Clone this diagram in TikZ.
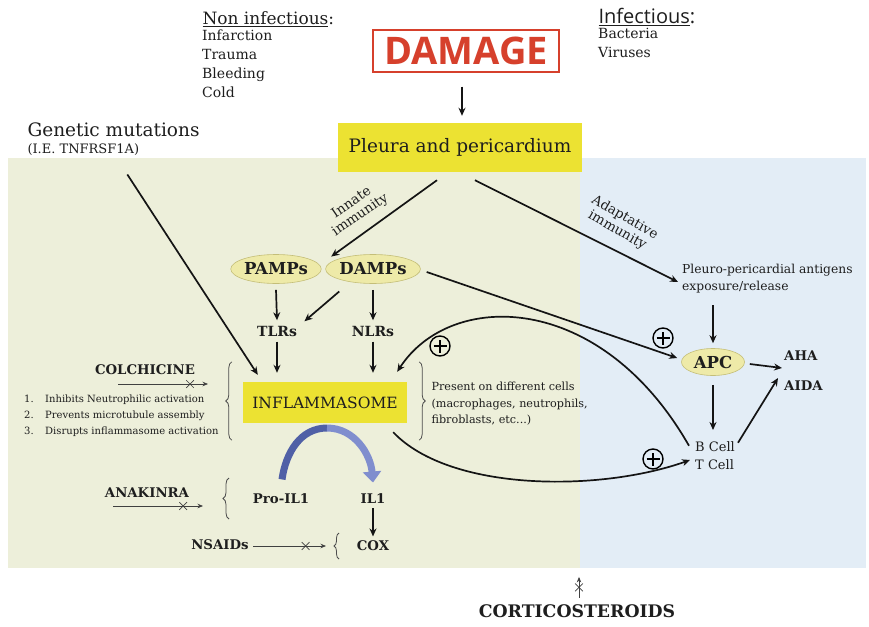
\documentclass[tikz,border=0pt]{standalone}
\usepackage{fontspec}
\setmainfont{DejaVu Serif}
\newfontfamily\osans{Open Sans}
\usetikzlibrary{arrows.meta,shapes.geometric,shapes.misc,decorations.pathreplacing,calc}
\definecolor{bggreen}{RGB}{237,239,218}
\definecolor{bgblue}{RGB}{227,237,246}
\definecolor{boxyellow}{RGB}{236,226,50}
\definecolor{ellfill}{RGB}{238,234,168}
\definecolor{ellline}{RGB}{196,190,120}
\definecolor{dmgred}{RGB}{214,64,44}
\definecolor{txt}{RGB}{30,30,30}
\definecolor{blueA}{RGB}{80,96,166}
\definecolor{blueB}{RGB}{128,142,206}
\newcommand\fsz[1]{\fontsize{#1}{#1}\selectfont}
\begin{document}
\begin{tikzpicture}[x=1pt,y=-1pt,
  every node/.style={text=txt},
  arr/.style={-{Stealth[length=8pt,width=7pt]}, line width=1.7pt, draw=black!92},
  thinarr/.style={-{Stealth[length=5.5pt,width=4.5pt]}, line width=0.7pt, draw=black!75},
  ell/.style={ellipse, fill=ellfill, draw=ellline, line width=0.6pt, inner sep=0pt},
  bld/.style={font=\bfseries\fsz{#1}},
  brc/.style={decorate, decoration={brace, amplitude=#1}, line width=0.8pt, draw=black!70},
  brc/.default=6pt,
  xmark/.style={cross out, draw=black!75, line width=0.7pt, minimum size=7pt, inner sep=0pt},
  oplus/.style={circle, draw=black, line width=1.4pt, minimum size=20pt, inner sep=0pt,
    path picture={\draw[line width=1.4pt] ($(path picture bounding box.center)+(-6.5pt,0pt)$) -- ($(path picture bounding box.center)+(6.5pt,0pt)$);
                  \draw[line width=1.4pt] ($(path picture bounding box.center)+(0pt,-6.5pt)$) -- ($(path picture bounding box.center)+(0pt,6.5pt)$);}},
]
\useasboundingbox (0,0) rectangle (869,626);
\fill[white] (0,0) rectangle (869,626);
\fill[bggreen] (8,158) rectangle (580,568);
\fill[bgblue] (580,158) rectangle (866,568);

% top texts
\node[anchor=west, font=\fsz{17}] (noninf) at (199,19) {\underline{Non infectious}:};
\node[anchor=north west, align=left, font=\fontsize{14}{19}\selectfont, inner sep=0pt] (noninflist) at (202,30) {Infarction\\Trauma\\Bleeding\\Cold};
\node[anchor=west, font=\osans\fsz{20}] (inf) at (595,17) {\underline{Infectious}:};
\node[anchor=north west, align=left, font=\fontsize{14}{18.5}\selectfont, inner sep=0pt] (inflist) at (598,28) {Bacteria\\Viruses};

\node[draw=dmgred, line width=2pt, minimum width=186pt, minimum height=41pt, inner sep=0pt, font=\osans\bfseries\fsz{38}, text=dmgred] (damage) at (466,51) {DAMAGE};
\node[fill=boxyellow, minimum width=244pt, minimum height=49pt, font=\fsz{18.5}] (pleura) at (460,147.5) {Pleura and pericardium};
\draw[arr] ([xshift=-4pt,yshift=-14pt]damage.south) -- ([xshift=2pt,yshift=7pt]pleura.north);

\node[anchor=west, font=\fsz{18.5}] (gen) at (24,130) {Genetic mutations};
\node[anchor=west, font=\fsz{13}] (genie) at (24,150) {(I.E. TNFRSF1A)};

% innate side
\node[ell, minimum width=75pt, minimum height=29pt, bld=16.5] (pamps) at (276,269) {PAMPs};
\node[ell, minimum width=80pt, minimum height=29pt, bld=16.5] (damps) at (373,269) {DAMPs};
\node[bld=14] (tlrs) at (277,331) {TLRs};
\node[bld=14] (nlrs) at (373,331) {NLRs};
\node[fill=boxyellow, minimum width=164pt, minimum height=41pt, font=\fsz{15.5}] (infl) at (325,402.5) {INFLAMMASOME};

\draw[arr] ([xshift=-23pt,yshift=-8pt]pleura.south) -- ([xshift=23pt,yshift=2pt]pamps.north east);
\node[rotate=34.5, align=center, font=\fontsize{13.5}{15}\selectfont] (innatelbl) at (356,209) {Innate\\immunity};
\draw[arr] ([xshift=15pt,yshift=-8pt]pleura.south) -- (678,282) coordinate (adtip);
\node[rotate=-30, align=center, font=\fontsize{13.5}{15}\selectfont] (adaptlbl) at (621,224) {Adaptative\\immunity};

\draw[arr] ([xshift=44pt,yshift=-15pt]genie.south) -- ([xshift=15pt,yshift=7pt]infl.north west);
\draw[arr] ([yshift=-6pt]pamps.south) -- ([yshift=2pt]tlrs.north);
\draw[arr] ([yshift=-12pt]damps.south west) -- ([xshift=4pt,yshift=1pt]tlrs.north east);
\draw[arr] ([yshift=-6pt]damps.south) -- ([yshift=2pt]nlrs.north);
\draw[arr, shorten >=9pt] ([yshift=-2pt]tlrs.south) -- (tlrs.south |- infl.north);
\draw[arr, shorten >=9pt] ([yshift=-2pt]nlrs.south) -- (nlrs.south |- infl.north);

\draw[brc] ([xshift=-11pt,yshift=-17pt]infl.south west) -- ([xshift=-11pt,yshift=20pt]infl.north west);
\draw[brc] ([xshift=12pt,yshift=20pt]infl.north east) -- ([xshift=12pt,yshift=-17pt]infl.south east);
\node[anchor=west, align=left, font=\fontsize{11.2}{16.5}\selectfont] (present) at (428,404) {Present on different cells\\(macrophages, neutrophils,\\fibroblasts, etc...)};

% drugs
\node[bld=13.3] (colch) at (145,370) {COLCHICINE};
\coordinate (colchA) at (118,384);
\coordinate (colchB) at (208,384);
\draw[thinarr] (colchA) -- (colchB) node[xmark, pos=0.8] (colchx) {};
\node[anchor=north west, align=left, font=\fontsize{10}{16}\selectfont, inner sep=0pt] (clist) at (24,395) {\makebox[21pt][l]{1.}Inhibits Neutrophilic activation\\\makebox[21pt][l]{2.}Prevents microtubule assembly\\\makebox[21pt][l]{3.}Disrupts inflammasome activation};

\node[bld=13.3] (anak) at (147,493) {ANAKINRA};
\coordinate (anakA) at (113,506);
\coordinate (anakB) at (203,506);
\draw[thinarr] (anakA) -- (anakB) node[xmark, pos=0.78] (anakx) {};
\draw[brc] (229,519) -- (229,478);

\node[bld=13.3] (proil) at (281,499) {Pro-IL1};
\node[bld=13.3] (il1) at (373,499) {IL1};
\node[bld=13.3] (cox) at (373,546) {COX};
\draw[arr] ([yshift=-1pt]il1.south) -- ([yshift=1pt]cox.north);
\coordinate (bluetop) at (327,428);
\draw[line width=7pt, draw=blueA] ([xshift=1pt,yshift=11pt]proil.north) to[out=82, in=180] (bluetop);
\draw[line width=7pt, draw=blueB, -{Triangle[length=11pt,width=18pt]}] (bluetop) to[out=0, in=95] ([yshift=8pt]il1.north);

\node[bld=13.3] (nsaids) at (220,545) {NSAIDs};
\coordinate (nsA) at (253,546);
\coordinate (nsB) at (326,546);
\draw[thinarr] (nsA) -- (nsB) node[xmark, pos=0.72] (nsx) {};
\draw[brc=5pt] (339,559) -- (339,533);

% adaptive side
\node[anchor=north west, align=left, font=\fontsize{12.3}{16.5}\selectfont, inner sep=0pt] (antig) at (682,264) {Pleuro-pericardial antigens\\exposure/release};
\node[ell, minimum width=63pt, minimum height=27pt, bld=16.5] (apc) at (713,362) {APC};
\node[anchor=west, bld=13.3, inner sep=0pt] (aha) at (784,356) {AHA};
\node[anchor=west, bld=13.3, inner sep=0pt] (aida) at (784,386) {AIDA};
\node[anchor=west, align=left, font=\fontsize{13}{18}\selectfont, inner sep=0pt] (bcell) at (695,456) {B Cell\\T Cell};

\coordinate (antbot) at (713,305);
\draw[arr] (antbot) -- ([yshift=5pt]apc.north);
\draw[arr] ([xshift=5pt,yshift=-2pt]apc.east) -- ([xshift=-2pt,yshift=-12pt]aha.west);
\coordinate (bctop) at (713,430);
\draw[arr] ([yshift=-9pt]apc.south) -- (bctop);
\draw[arr] ([xshift=43pt,yshift=-1pt]bcell.north west) -- ([xshift=-6pt,yshift=8pt]aida.west);

\draw[arr] ([xshift=6pt,yshift=-3pt]damps.east) -- ([xshift=-4pt,yshift=4pt]apc.west);
\draw[arr] ([xshift=-6pt,yshift=-4pt]bcell.north west) .. controls (600,290) and (450,290) .. ([xshift=-10pt,yshift=10pt]infl.north east);
\draw[arr] ([xshift=-14pt,yshift=-9pt]infl.south east) .. controls (450,492) and (600,492) .. ([xshift=-5pt,yshift=-4pt]bcell.west);

\node[oplus] (p1) at (663,338) {};
\node[oplus] (p2) at (653,459) {};
\node[oplus] (p3) at (440,346) {};

% corticosteroids
\node[bld=17.3] (cort) at (577,611) {CORTICOSTEROIDS};
\draw[thinarr] ([xshift=2pt,yshift=3pt]cort.north) -- ([xshift=2pt,yshift=24pt]cort.north) node[xmark, pos=0.5] (cortx) {};
\end{tikzpicture}
\end{document}
